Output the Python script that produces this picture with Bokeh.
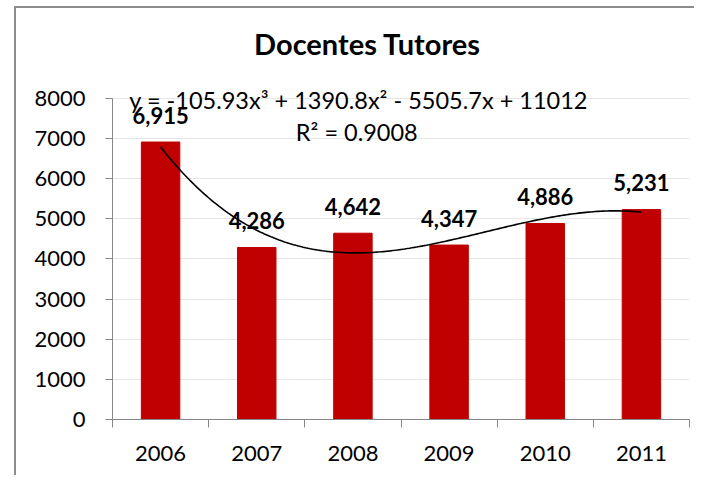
import numpy as np
from bokeh.plotting import figure
from bokeh.layouts import column
from bokeh.models import ColumnDataSource, LabelSet, Label, FixedTicker, InlineStyleSheet
from bokeh.core.properties import value
from bokeh.embed import file_html
from bokeh.resources import INLINE

# ---- data ----
years = ["2006", "2007", "2008", "2009", "2010", "2011"]
docentes = [6915, 4286, 4642, 4347, 4886, 5231]
y_ticks = [0, 1000, 2000, 3000, 4000, 5000, 6000, 7000, 8000]
trend_coeffs = [-105.93, 1390.8, -5505.7, 11012]   # cubic trendline shown on chart
r_squared = 0.9008
title_text = "Docentes Tutores"

FONT = "Lato"
BAR_RED = "#C00000"
AXIS_GRAY = "#868686"
FRAME_GRAY = "#8c8c8c"

Y_AXIS_MAX = 8000
Y_VIEW_MAX = 10442   # extra room above the axis for title / equation

xpos = list(range(1, len(years) + 1))
labels = [f"{v:,}" for v in docentes]
src = ColumnDataSource(dict(x=xpos, top=docentes, lab=labels))

p = figure(width=694, height=475, x_range=(0.5, len(years) + 0.5), y_range=(0, Y_VIEW_MAX),
           output_backend="svg", toolbar_location=None,
           min_border_left=112, min_border_right=5, min_border_top=0, min_border_bottom=56)
p.outline_line_color = None
p.background_fill_color = None
p.border_fill_color = None

p.vbar(x="x", top="top", width=0.4, source=src, fill_color=BAR_RED, line_color=BAR_RED)

# trendline from the displayed equation
xs = np.linspace(1, len(years), 200)
ys = np.polyval(trend_coeffs, xs)
p.line(xs, ys, line_color="black", line_width=1.6)

# bar value labels
p.add_layout(LabelSet(x="x", y="top", text="lab", source=src, text_align="center",
                      text_baseline="middle", y_offset=27, text_font=value(FONT),
                      text_font_style="bold", text_font_size="22px", text_color="black"))

# axes
yax = p.yaxis[0]
yax.ticker = FixedTicker(ticks=y_ticks)
yax.bounds = (0, Y_AXIS_MAX)
yax.axis_line_color = AXIS_GRAY
yax.major_tick_line_color = AXIS_GRAY
yax.major_tick_out = 7
yax.major_tick_in = 0
yax.minor_tick_line_color = None
yax.major_label_standoff = 20
yax.major_label_text_font = FONT
yax.major_label_text_font_size = "22px"
yax.major_label_text_color = "black"

xax = p.xaxis[0]
xax.ticker = FixedTicker(ticks=xpos, minor_ticks=[i + 0.5 for i in range(0, len(years) + 1)])
xax.major_label_overrides = {i: y for i, y in zip(xpos, years)}
xax.axis_line_color = AXIS_GRAY
xax.major_tick_out = 0
xax.major_tick_in = 0
xax.minor_tick_line_color = AXIS_GRAY
xax.minor_tick_out = 8
xax.minor_tick_in = 0
xax.major_label_standoff = 18
xax.major_label_text_font = FONT
xax.major_label_text_font_size = "22px"
xax.major_label_text_color = "black"

p.xgrid.grid_line_color = None
p.ygrid.ticker = FixedTicker(ticks=y_ticks)
p.ygrid.grid_line_color = "#e6e6e6"

# title (inside the extended frame)
p.add_layout(Label(x=3.152, y=9371, text=title_text, text_align="center", text_baseline="middle",
                   text_font=FONT, text_font_style="bold", text_font_size="29px",
                   text_color="black"))

# trendline equation
a, b, c, d = trend_coeffs
eq = f"y = {a}x\u00b3 + {b}x\u00b2 - {abs(c)}x + {d}"
p.add_layout(Label(x=3.06, y=7950, text=eq, text_align="center", text_baseline="middle",
                   text_font=FONT, text_font_size="23.5px", text_color="black"))
p.add_layout(Label(x=3.04, y=7161, text=f"R\u00b2 = {r_squared}", text_align="center",
                   text_baseline="middle", text_font=FONT, text_font_size="23.5px",
                   text_color="black"))

# chart-area frame: left and top edges only (right/bottom fall outside the window)
frame_css = InlineStyleSheet(css=(
    ":host { background: "
    f"linear-gradient({FRAME_GRAY},{FRAME_GRAY}) 14px 6px / 2px calc(100% - 6px) no-repeat, "
    f"linear-gradient({FRAME_GRAY},{FRAME_GRAY}) 14px 6px / calc(100% - 14px) 2px no-repeat, white; }}"
))
root = column(p, width=694, height=475, stylesheets=[frame_css])

open("out.html", "w").write(file_html(root, INLINE))
